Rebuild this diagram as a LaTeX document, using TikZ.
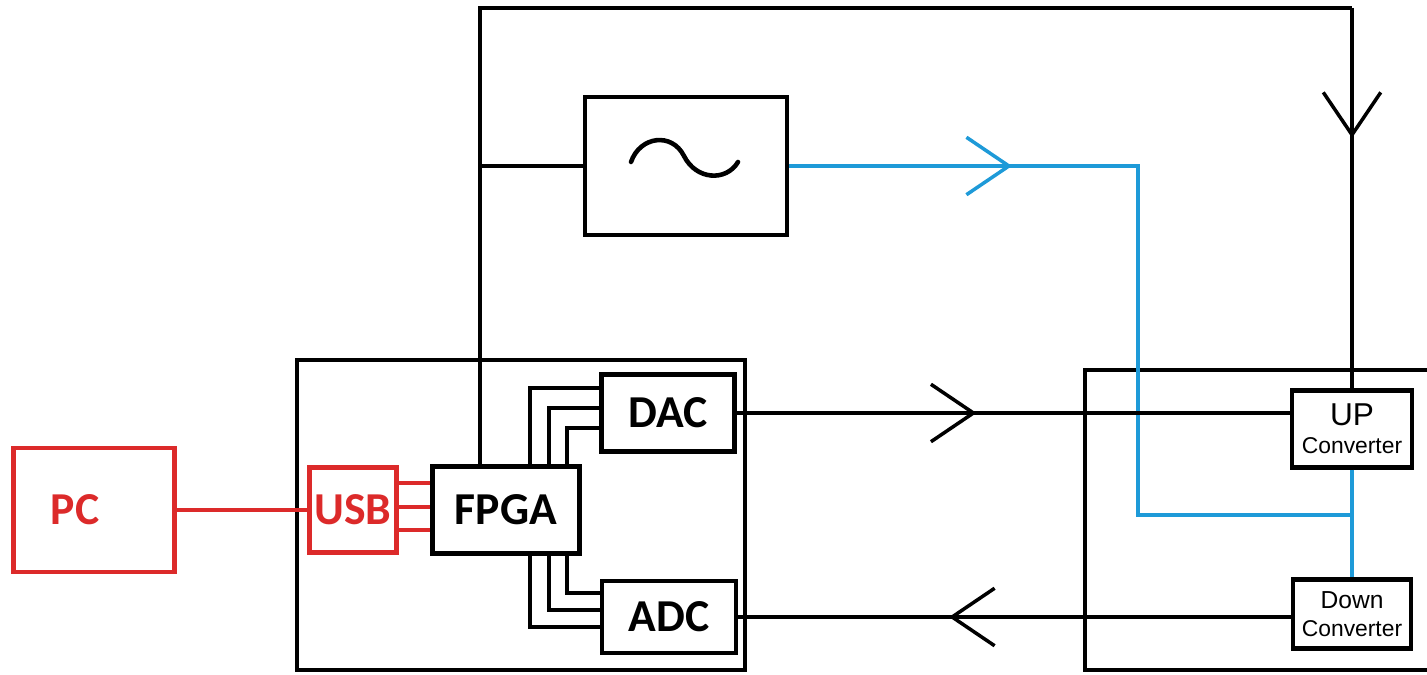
\documentclass[tikz,border=0pt]{standalone}
\usepackage{fontspec}
\newfontfamily\calibri{Carlito}
\newfontfamily\arialfont{Liberation Sans}
\usetikzlibrary{arrows.meta,decorations.markings}
\definecolor{PcRed}{HTML}{DC2A2A}
\definecolor{RfBlue}{HTML}{1E9AD8}

\begin{document}
\begin{tikzpicture}[x=0.02cm,y=-0.02cm,
    box/.style={draw,line width=2.4pt,inner sep=0pt},
    chiptext/.style={font=\calibri\bfseries\fontsize{26}{28}\selectfont},
    wire/.style={line width=1.8pt},
    bus/.style={line width=2.2pt},
    usbwire/.style={PcRed,line width=1.8pt},
    rfwire/.style={RfBlue,line width=2.4pt},
    midarrow/.style={postaction={decorate,decoration={markings,
      mark=at position #1 with {\arrow{Straight Barb[length=0.85cm,width=1.15cm,line width=2pt]}}}}}]
        \useasboundingbox (0,0) rectangle (1427,675);
        \draw[line width=2.2pt] (297,360) rectangle (745,670);
        \draw[line width=2.2pt] (1440,370) -| (1085,670) -- (1440,670);
        \node[box,draw=PcRed,text=PcRed,chiptext,minimum width=3.22cm,minimum height=2.48cm] (pc) at (94,510) {\hspace*{-0.76cm}PC};
        \node[box,draw=PcRed,text=PcRed,chiptext,minimum width=1.74cm,minimum height=1.70cm] (usb) at (353,510) {USB};
        \node[box,chiptext,minimum width=2.94cm,minimum height=1.74cm] (fpga) at (506,510) {FPGA};
        \node[box,chiptext,minimum width=2.66cm,minimum height=1.54cm] (dac) at (668,413) {DAC};
        \node[box,chiptext,minimum width=2.68cm,minimum height=1.44cm] (adc) at (669,617) {ADC};
        \node[box,minimum width=4.04cm,minimum height=2.76cm] (osc) at (686,166) {};
        \node[box,align=center,font=\arialfont,minimum width=2.40cm,minimum height=1.54cm] (up) at (1352,429)
          {\fontsize{18}{18}\selectfont UP\\[4pt]\fontsize{13}{15}\selectfont Converter};
        \node[box,align=center,font=\arialfont,minimum width=2.36cm,minimum height=1.38cm] (down) at (1352,614)
          {\fontsize{14}{14}\selectfont Down\\[4pt]\fontsize{13}{15}\selectfont Converter};
        \coordinate (corner) at (up.north |- 0,8);
        \draw[wire] (480,0 |- fpga.north) |- (corner);
        \draw[wire,midarrow=2.6cm] (corner) -- (up.north);
        \draw[wire] (480,0 |- osc.west) -- (osc.west);
        \draw[line width=2.6pt,line cap=round,shift={(osc.center)}] (-55,-4) .. controls (-46,-30) and (-14,-34) .. (-2,-10)
          .. controls (10,14) and (40,16) .. (52,-4);
        \draw[rfwire,midarrow=4.46cm] (osc.east) -| (1138,515) -- (up.south |- 0,515);
        \draw[rfwire] (up.south) -- (down.north);
        \draw[wire,midarrow=4.8cm] (dac.east) -- (up.west |- dac.east);
        \draw[wire,midarrow=6.84cm] (down.west |- adc.east) -- (adc.east);
        \foreach \x/\y in {530/388,549/408,567/428}
          \draw[bus] (\x,0 |- fpga.north) |- (dac.west |- 0,\y);
        \foreach \x/\y in {530/627,549/610,567/593}
          \draw[bus] (\x,0 |- fpga.south) |- (adc.west |- 0,\y);
        \foreach \y in {483,507,530}
          \draw[usbwire] (usb.east |- 0,\y) -- (fpga.west |- 0,\y);
        \draw[usbwire] (pc.east) -- (usb.west);
      \end{tikzpicture}
\end{document}
